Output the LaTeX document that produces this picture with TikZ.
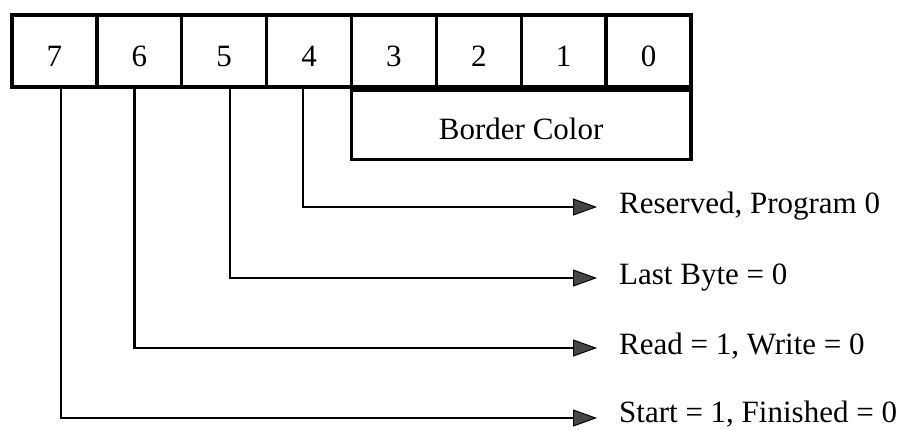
\documentclass[tikz,border=0pt]{standalone}
\usepackage{fontspec}
\setmainfont{Liberation Serif}
\usetikzlibrary{arrows.meta}
\begin{document}
\begin{tikzpicture}[x=1pt,y=-1pt,
  font=\fontsize{31}{36}\selectfont,
  cell/.style={draw,line width=3.4pt,minimum width=84.875pt,inner sep=0pt,
    text height=51pt,text depth=21pt},
  field/.style={draw,line width=3.2pt,minimum width=339.5pt,inner sep=0pt,
    text height=49pt,text depth=20pt},
  lab/.style={anchor=west,inner ysep=0pt,inner xsep=0pt,text height=12pt,text depth=0pt,
    xshift=22pt},
  conn/.style={line width=2.6pt,
    -{Triangle[length=24pt,width=17pt,fill=gray!55!black,line width=1pt]}},
]
\useasboundingbox (0,0) rectangle (911,429);

% register bits 7..0
\foreach \b [count=\i from 0] in {7,6,5,4,3,2,1,0}
  \node[cell] (b\b) at (12+84.875*\i+42.4375,51) {\b};

% bits 3..0 grouped
\node[field,anchor=north west] (bc) at (b3.south west) {Border Color};

% bit descriptions
\coordinate (e4) at (597,207);
\coordinate (e5) at (597,278);
\coordinate (e6) at (597,348);
\coordinate (e7) at (597,418);
\node[lab] (l4) at (e4) {Reserved, Program 0};
\node[lab] (l5) at (e5) {Last Byte = 0};
\node[lab] (l6) at (e6) {Read = 1, Write = 0};
\node[lab,text height=8pt] (l7) at (e7) {Start = 1, Finished = 0};

\draw[conn] ([xshift=-6pt]b4.south) |- (e4);
\draw[conn] ([xshift=6pt]b5.south) |- (e5);
\draw[conn] ([xshift=-5pt]b6.south) |- (e6);
\draw[conn] ([xshift=6.6pt]b7.south) |- (e7);
\end{tikzpicture}
\end{document}
